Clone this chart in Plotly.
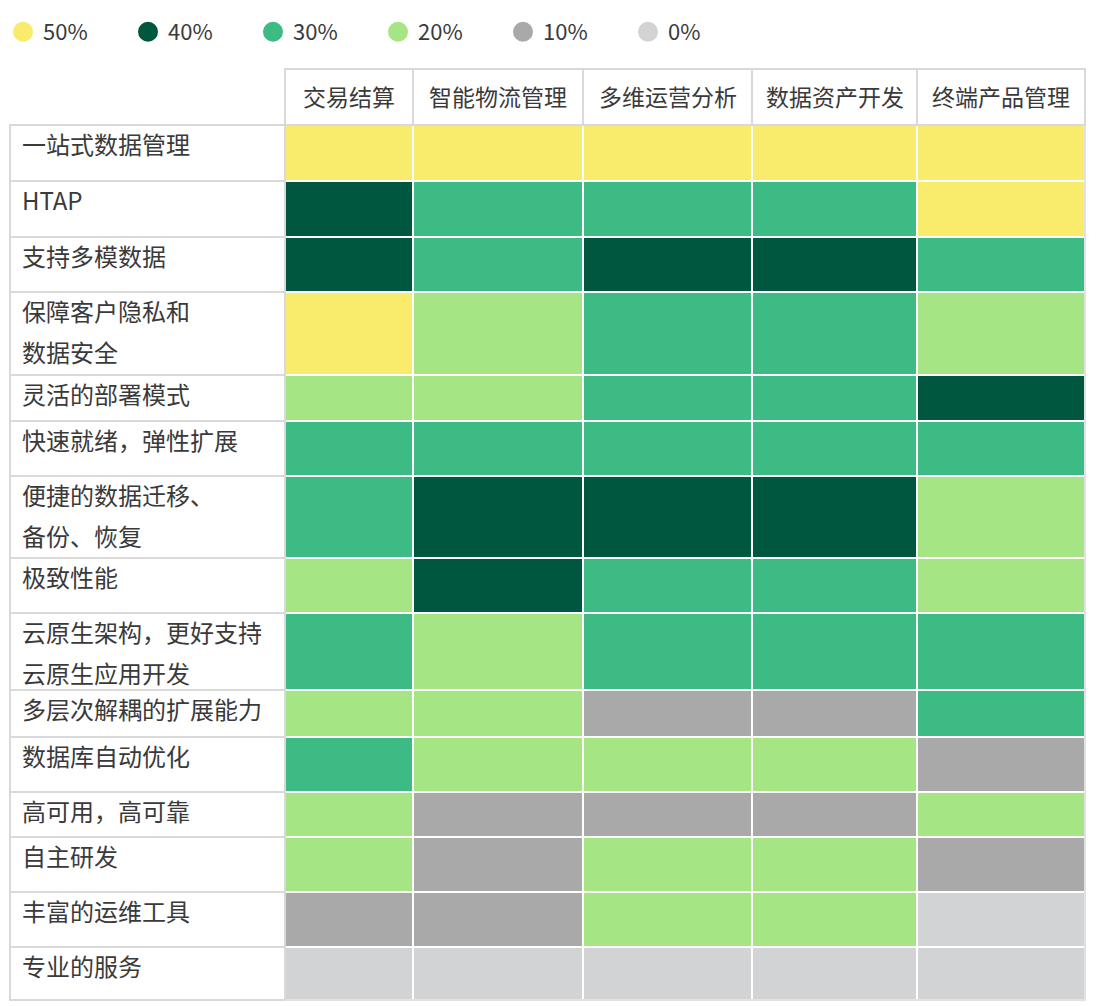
import plotly.graph_objects as go
import numpy as np

# ---------------- data ----------------
scenarios = ["交易结算", "智能物流管理", "多维运营分析", "数据资产开发", "终端产品管理"]
features = [
    "一站式数据管理",
    "HTAP",
    "支持多模数据",
    "保障客户隐私和<br>数据安全",
    "灵活的部署模式",
    "快速就绪，弹性扩展",
    "便捷的数据迁移、<br>备份、恢复",
    "极致性能",
    "云原生架构，更好支持<br>云原生应用开发",
    "多层次解耦的扩展能力",
    "数据库自动优化",
    "高可用，高可靠",
    "自主研发",
    "丰富的运维工具",
    "专业的服务",
]
jiaoyi_jiesuan = [50, 40, 40, 50, 20, 30, 30, 20, 30, 20, 30, 20, 20, 10, 0]
zhineng_wuliu = [50, 30, 30, 20, 20, 30, 40, 40, 20, 20, 20, 10, 10, 10, 0]
duowei_yunying = [50, 30, 40, 30, 30, 30, 40, 30, 30, 10, 20, 10, 20, 20, 0]
shuju_zichan = [50, 30, 40, 30, 30, 30, 40, 30, 30, 10, 20, 10, 20, 20, 0]
zhongduan_chanpin = [50, 50, 30, 20, 40, 30, 20, 20, 30, 30, 10, 20, 10, 0, 0]
series = [jiaoyi_jiesuan, zhineng_wuliu, duowei_yunying, shuju_zichan, zhongduan_chanpin]

levels = [50, 40, 30, 20, 10, 0]
level_labels = ["50%", "40%", "30%", "20%", "10%", "0%"]

# ---------------- styles / layout ----------------
level_colors = ["#F9EB6B", "#00573F", "#3CBB85", "#A5E584", "#A9A9AA", "#D2D3D5"]
W, H = 1100, 1006
label_left = 10
label_width = 275
col_widths = [128, 170, 169, 165, 168]
header_top = 69
header_height = 56
row_heights = [56, 56, 55, 83, 46, 55, 82, 55, 77, 47, 55, 45, 55, 55, 53]
line_gap = 41
text_pad_x = 10
first_line_offset = 18
border_color = "#D9D9D9"
text_color = "#3A3A3A"
FONT = "Noto Sans CJK SC, Noto Sans, sans-serif"

col_edges = np.concatenate([[label_left + label_width], label_left + label_width + np.cumsum(col_widths)])
row_edges = np.concatenate([[header_top + header_height], header_top + header_height + np.cumsum(row_heights)])

# colorscale mapping exact levels to exact colors
zmin, zmax = min(levels), max(levels)
cs = sorted([[(lv - zmin) / (zmax - zmin), c] for lv, c in zip(levels, level_colors)])

z = np.array(series).T  # rows x columns

fig = go.Figure()
fig.add_trace(go.Heatmap(
    x=col_edges, y=row_edges, z=z,
    zmin=zmin, zmax=zmax, colorscale=cs, showscale=False,
    xgap=2, ygap=2, hoverongaps=False,
    customdata=np.array([[f for _ in scenarios] for f in features]),
    hovertemplate="%{customdata}<br>%{z}%<extra></extra>",
))

# legend entries
for lab, c in zip(level_labels, level_colors):
    fig.add_trace(go.Scatter(
        x=[None], y=[None], mode="markers", name=lab,
        marker=dict(size=20, color=c, symbol="circle", line=dict(color=c, width=4)),
    ))

shapes = []
annotations = []
# header cells
for j, name in enumerate(scenarios):
    x0, x1 = col_edges[j], col_edges[j + 1]
    shapes.append(dict(type="rect", xref="x", yref="y", x0=x0, x1=x1,
                       y0=header_top, y1=row_edges[0],
                       line=dict(color=border_color, width=2), fillcolor="white", layer="below"))
    annotations.append(dict(x=(x0 + x1) / 2, y=header_top + header_height / 2 - 1, xref="x", yref="y",
                            text=name, showarrow=False, xanchor="center", yanchor="middle",
                            font=dict(size=23, color=text_color, family=FONT)))
# label cells
for i, feat in enumerate(features):
    y0, y1 = row_edges[i], row_edges[i + 1]
    shapes.append(dict(type="rect", xref="x", yref="y", x0=label_left, x1=col_edges[0],
                       y0=y0, y1=y1, line=dict(color=border_color, width=2),
                       fillcolor="white", layer="below"))
    for k, line in enumerate(feat.split("<br>")):
        annotations.append(dict(x=label_left + text_pad_x, y=y0 + first_line_offset + k * line_gap,
                                xref="x", yref="y", text=line, showarrow=False,
                                xanchor="left", yanchor="middle",
                                font=dict(size=24, color=text_color, family=FONT)))
# outer border of colour grid
shapes.append(dict(type="rect", xref="x", yref="y", x0=col_edges[0], x1=col_edges[-1],
                   y0=row_edges[0], y1=row_edges[-1], line=dict(color=border_color, width=1.5),
                   layer="below"))

fig.update_layout(
    width=W, height=H,
    margin=dict(l=0, r=0, t=0, b=0),
    paper_bgcolor="white", plot_bgcolor="white",
    xaxis=dict(range=[0, W], visible=False, fixedrange=True),
    yaxis=dict(range=[H, 0], visible=False, fixedrange=True),
    shapes=shapes, annotations=annotations,
    showlegend=True,
    legend=dict(orientation="h", x=3 / W, xanchor="left", y=1 - 32 / H, yanchor="middle",
                entrywidth=80, entrywidthmode="pixels", itemsizing="trace",
                font=dict(size=22, color=text_color, family=FONT),
                bgcolor="rgba(0,0,0,0)"),
    font=dict(family=FONT, color=text_color),
)

fig.write_html("out.html", post_script="document.body.style.margin='0';",
               config={"displayModeBar": False})
